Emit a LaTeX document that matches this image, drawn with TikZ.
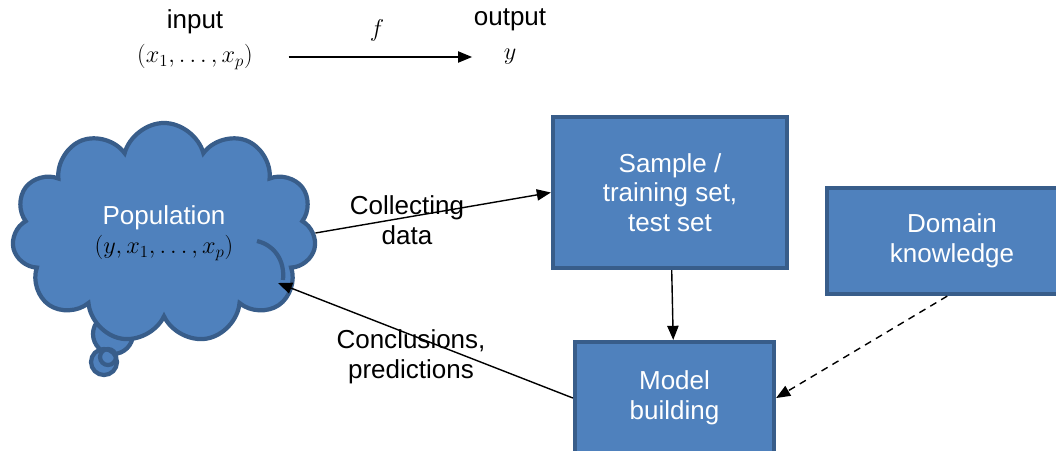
\documentclass[tikz,border=0pt]{standalone}
\usepackage{fontspec}
\setmainfont{Liberation Sans}
\usetikzlibrary{shapes.symbols,arrows.meta}

\definecolor{boxfill}{HTML}{4F81BD}
\definecolor{boxline}{HTML}{385D8A}

\begin{document}
\begin{tikzpicture}[
        x=0.025cm, y=-0.025cm,
        every node/.style={font=\fontsize{18.5}{21}\selectfont, align=center},
        block/.style={rectangle, draw=boxline, fill=boxfill, line width=3pt, text=white},
        bubble/.style={draw=boxline, fill=boxfill, line width=3pt},
        arr/.style={-{Triangle[length=10pt,width=8pt]}, line width=1pt}
    ]
    \useasboundingbox (0,0) rectangle (1056,450);

    % input -> output
    \node (inp) at (195,22) {input};
    \node (xin) at (195,57) {$(x_1, \ldots, x_p)$};
    \node (outp) at (510,20) {output};
    \node (yout) at (510,57) {$y$};
    \node (fmap) at (377,30) {$f$};
    \draw[arr, shorten <=22pt, shorten >=19pt] (xin) -- (yout);

    % thought cloud
    \draw[bubble] (113,334) circle (20);
    \draw[bubble] (104,362) circle (13);
    \draw[draw=boxline, line width=3pt] (108,357) circle (8);
    \node[cloud, cloud puffs=11, aspect=1.4, bubble, minimum width=7.6cm, minimum height=5.5cm] (pop) at (164,233)
        {\textcolor{white}{Population}\\$(y, x_1, \ldots, x_p)$};
    \draw[draw=boxline, line width=3pt] (257,241) .. controls (274,245) and (285,260) .. (283,280);
    \coordinate (popin) at (278,283);

    % boxes
    \node[block, minimum width=5.85cm, minimum height=3.775cm] (sample) at (670,192.5) {Sample /\\training set,\\test set};
    \node[block, minimum width=6.25cm, minimum height=2.65cm] (domain) at (952,241) {Domain\\knowledge};
    \node[block, minimum width=4.975cm, minimum height=2.8cm] (model) at (674.5,398) {Model\\building};

    % connectors
    \draw[arr] (pop.east) -- (sample.west);
    \node (collect) at (407,220) {Collecting\\data};
    \draw[arr] (sample) -- (model);
    \draw[arr] (model.west) -- (popin);
    \node (concl) at (411,357) {Conclusions,\\predictions};
    \draw[arr, dashed, dash pattern=on 5pt off 4pt] (domain.-95) -- (model.east);
\end{tikzpicture}
\end{document}
